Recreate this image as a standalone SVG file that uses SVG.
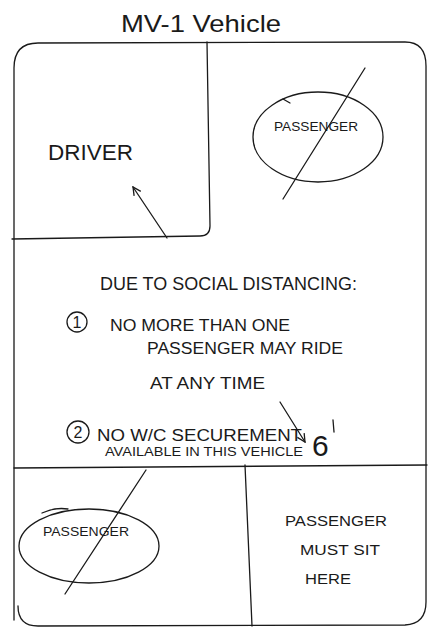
<svg xmlns="http://www.w3.org/2000/svg" width="428" height="627" viewBox="0 0 428 627">
<defs>
<style>
.ln{fill:none;stroke:#1a1a1a;stroke-width:1.3;stroke-linecap:round;stroke-linejoin:round}
.t{font-family:"Liberation Sans",Arial,sans-serif;fill:#1a1a1a}
</style>
<marker id="ah" viewBox="0 0 10 10" refX="9" refY="5" markerWidth="10" markerHeight="10" orient="auto" markerUnits="userSpaceOnUse">
<path d="M1,1 L9,5 L1,9" fill="none" stroke="#1a1a1a" stroke-width="1.3"/>
</marker>
</defs>
<rect width="428" height="627" fill="#fff"/>
<text class="t" x="201" y="32" font-size="24" text-anchor="middle" textLength="160" lengthAdjust="spacingAndGlyphs">MV-1  Vehicle</text>
<g id="vehicle">
<path class="ln" d="M14,620 L14,68 Q14,43 38,43 L405,42 Q426,42 426,66 L426,602 Q426,624 405,625 L38,626 Q18,626 18,606"/>
</g>
<g id="driver">
<path class="ln" d="M207,42 L210,226 Q210,236 200,236 L12,239"/>
<text class="t" x="48" y="160" font-size="22" textLength="85" lengthAdjust="spacingAndGlyphs">DRIVER</text>
</g>
<g id="passenger-front">
<ellipse class="ln" cx="318" cy="137" rx="65" ry="45"/>
<path class="ln" d="M283,99 L290,103"/>
<text class="t" x="316" y="131" font-size="13" text-anchor="middle" textLength="84" lengthAdjust="spacingAndGlyphs">PASSENGER</text>
<path class="ln" d="M365,68 L283,199"/>
</g>
<g id="notice">
<text class="t" x="100" y="290" font-size="18" textLength="257" lengthAdjust="spacingAndGlyphs">DUE TO SOCIAL DISTANCING:</text>
<circle class="ln" cx="77" cy="322" r="10"/>
<text class="t" x="77" y="328" font-size="16" text-anchor="middle">1</text>
<text class="t" x="110" y="331" font-size="17" textLength="180" lengthAdjust="spacingAndGlyphs">NO MORE THAN ONE</text>
<text class="t" x="147" y="354" font-size="16" textLength="196" lengthAdjust="spacingAndGlyphs">PASSENGER MAY RIDE</text>
<text class="t" x="150" y="389" font-size="17" textLength="115" lengthAdjust="spacingAndGlyphs">AT ANY TIME</text>
<circle class="ln" cx="78" cy="432" r="11"/>
<text class="t" x="78" y="438" font-size="16" text-anchor="middle">2</text>
<text class="t" x="97" y="441" font-size="16" textLength="205" lengthAdjust="spacingAndGlyphs">NO W/C SECUREMENT</text>
<text class="t" x="105" y="456" font-size="12" textLength="198" lengthAdjust="spacingAndGlyphs">AVAILABLE IN THIS VEHICLE</text>
<text class="t" x="312" y="456" font-size="30">6</text>
<path class="ln" d="M333,420 L334,432"/>
</g>
<g id="passenger-rear-left">
<ellipse class="ln" cx="89" cy="546" rx="70" ry="37"/>
<path class="ln" d="M42,513 Q55,507 68,509"/>
<text class="t" x="86" y="536" font-size="13" text-anchor="middle" textLength="86" lengthAdjust="spacingAndGlyphs">PASSENGER</text>
<path class="ln" d="M146,470 L65,594"/>
</g>
<g id="passenger-rear-right">
<text class="t" x="336" y="526" font-size="15" text-anchor="middle" textLength="102" lengthAdjust="spacingAndGlyphs">PASSENGER</text>
<text class="t" x="340" y="555" font-size="15" text-anchor="middle" textLength="80" lengthAdjust="spacingAndGlyphs">MUST SIT</text>
<text class="t" x="328" y="584" font-size="15" text-anchor="middle" textLength="46" lengthAdjust="spacingAndGlyphs">HERE</text>
</g>
<g id="connectors">
<path class="ln" d="M167,238 L133,187" marker-end="url(#ah)"/>
<path class="ln" d="M280,402 L305,442" marker-end="url(#ah)"/>
<path class="ln" d="M14,468 L427,465"/>
<path class="ln" d="M245,465 L252,626"/>
</g>
</svg>
